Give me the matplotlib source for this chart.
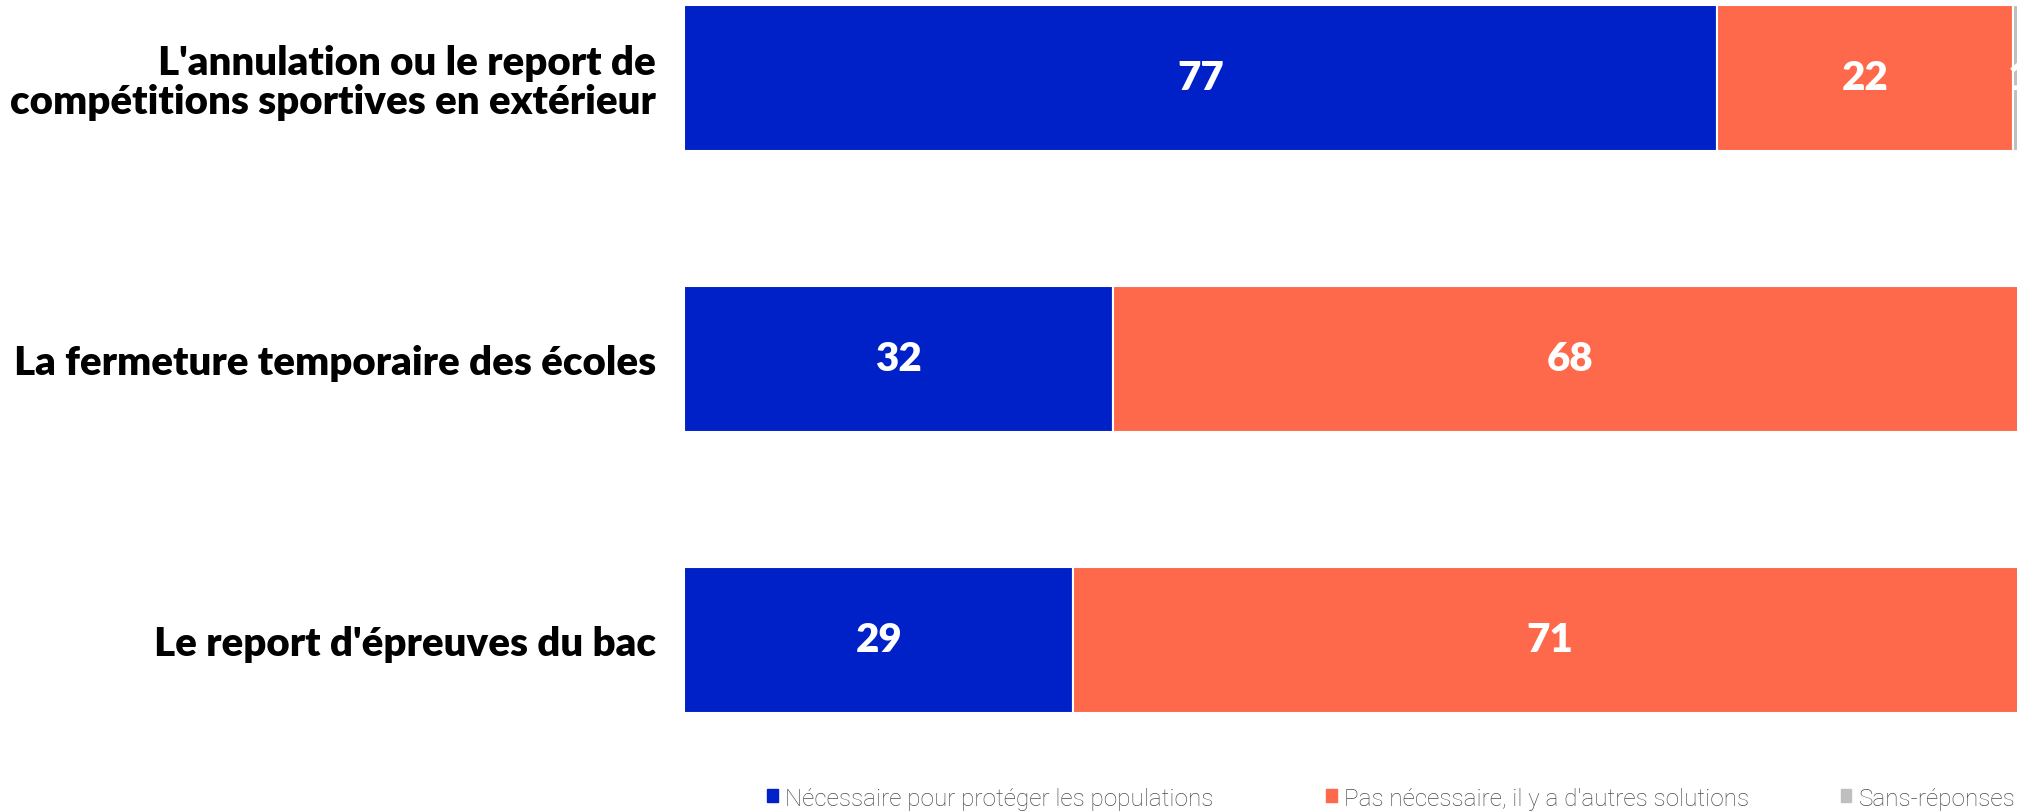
import matplotlib.pyplot as plt
from matplotlib.patches import Patch
import numpy as np

# data
categories = [
    "L'annulation ou le report de\ncompétitions sportives en extérieur",
    "La fermeture temporaire des écoles",
    "Le report d'épreuves du bac",
]
necessaire = [77, 32, 29]
pas_necessaire = [22, 68, 71]
sans_reponse = [1, 0, 0]
series_names = [
    "Nécessaire pour protéger les populations",
    "Pas nécessaire, il y a d'autres solutions",
    "Sans-réponses",
]
colors = ["#0020C8", "#FF694B", "#BFBFBF"]

fig = plt.figure(figsize=(20.17, 8.12), dpi=100)
# the plot runs a bit past the right edge of the picture, as in the source
ax = fig.add_axes([684 / 2017, 0.1068, 1342 / 2017, 0.8998])

y = np.arange(len(categories))
left = np.zeros(len(categories))
for vals, col in zip([necessaire, pas_necessaire, sans_reponse], colors):
    vals = np.array(vals, dtype=float)
    ax.barh(y, vals, left=left, height=0.52, color=col,
            edgecolor="white", linewidth=1.5)
    for yi, l, v in zip(y, left, vals):
        if v > 0:
            ax.text(l + v / 2, yi, f"{v:.0f}", ha="center", va="center",
                    color="white", fontsize=29, fontweight="heavy",
                    family="Lato")
    left += vals

ax.set_xlim(0, 100)
ax.set_ylim(2.3, -0.3)
ax.set_yticks(y)
ax.set_yticklabels(categories, fontsize=29, fontweight="heavy",
                   family="Lato", color="black", linespacing=1.05)
ax.tick_params(axis="y", length=0, pad=20)
ax.set_xticks([])
for s in ax.spines.values():
    s.set_visible(False)

# one legend entry per box so each sits where it does in the source
legend_x = [0.3801, 0.6575, 0.9125]
for name, col, lx in zip(series_names, colors, legend_x):
    fig.legend([Patch(color=col)], [name], loc="center left",
               bbox_to_anchor=(lx, 0.016), frameon=False,
               labelcolor="#4a4a4a", handlelength=0.45,
               handleheight=0.45, handletextpad=0.3,
               borderpad=0, borderaxespad=0,
               prop={"family": "Roboto", "weight": "light", "size": 17.5})

fig.savefig("out.png", dpi=100)
